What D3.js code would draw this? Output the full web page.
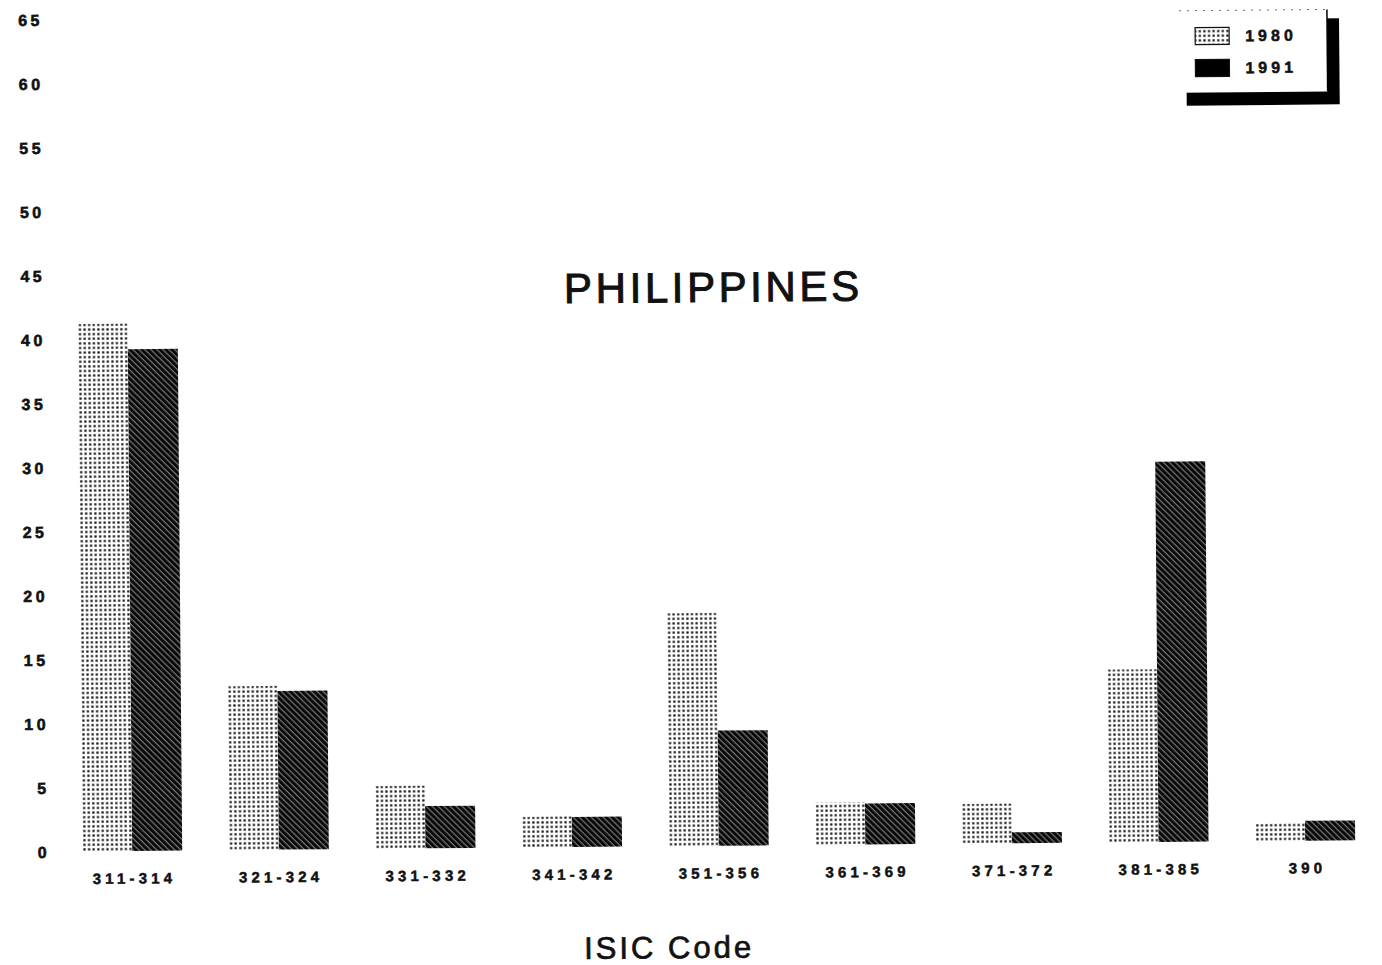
<!DOCTYPE html>
<html><head><meta charset="utf-8">
<script src="https://cdn.jsdelivr.net/npm/d3@7"></script>
<style>html,body{margin:0;padding:0;background:#fff;}</style>
</head><body>
<svg id="c" width="1382" height="965"></svg>
<script>
const categories = ["311-314","321-324","331-332","341-342","351-356","361-369","371-372","381-385","390"];
const series = ["1980","1991"];
const values1980 = [41.2, 12.8, 4.9, 2.4, 18.2, 3.3, 3.1, 13.5, 1.4];
const values1991 = [39.2, 12.4, 3.3, 2.35, 9.0, 3.2, 0.85, 29.7, 1.55];
const yTicks = [0,5,10,15,20,25,30,35,40,45,50,55,60,65];
const title = "PHILIPPINES";
const xTitle = "ISIC Code";

const svg = d3.select("#c");
const defs = svg.append("defs");
const dots = defs.append("pattern").attr("id","dots").attr("patternUnits","userSpaceOnUse")
  .attr("width",4.6).attr("height",4.6);
dots.append("rect").attr("width",4.6).attr("height",4.6).attr("fill","#fff");
dots.append("rect").attr("x",1.2).attr("y",1.2).attr("width",2.2).attr("height",2.2).attr("fill","#111");
const hatch = defs.append("pattern").attr("id","hatch").attr("patternUnits","userSpaceOnUse")
  .attr("width",4.2).attr("height",4.2).attr("patternTransform","rotate(-45)");
hatch.append("rect").attr("width",4.2).attr("height",4.2).attr("fill","#080808");
hatch.append("line").attr("x1",1).attr("x2",1).attr("y1",0).attr("y2",4.2)
  .attr("stroke","#c8c8c8").attr("stroke-width",0.7);

const fills = {"1980":"url(#dots)","1991":"url(#hatch)"};
const font = "'Liberation Sans', Arial, Helvetica, sans-serif";

const g = svg.append("g").attr("transform","rotate(-0.5,691,480)");

const x = d3.scaleBand().domain(categories).range([79,1352]).paddingInner(0.318).paddingOuter(0);
const xs = d3.scaleBand().domain(series).range([0,x.bandwidth()]).padding(0);
const y = d3.scaleLinear().domain([0,65]).range([846,14]);

// y tick labels
const yAxis = d3.axisLeft(y).tickValues(yTicks).tickSize(0).tickPadding(0).tickFormat(d3.format("d"));
const ya = g.append("g").attr("transform","translate(47,0)").call(yAxis);
ya.select(".domain").remove();
ya.selectAll("text").attr("font-family",font).attr("font-weight","bold")
  .attr("font-size",16).attr("letter-spacing","3.5px").attr("fill","#111")
  .attr("stroke","#111").attr("stroke-width",0.6).attr("dy","0.36em");

// bars
const data = categories.map((c,i)=>({cat:c, vals:[{s:"1980",v:values1980[i]},{s:"1991",v:values1991[i]}]}));
const grp = g.selectAll(".grp").data(data).enter().append("g")
  .attr("transform",d=>`translate(${x(d.cat)},0)`);
grp.selectAll("rect").data(d=>d.vals).enter().append("rect")
  .attr("x",d=>xs(d.s)).attr("width",xs.bandwidth())
  .attr("y",d=>y(d.v)).attr("height",d=>y(0)-y(d.v))
  .attr("fill",d=>fills[d.s]);

// x labels
const xAxis = d3.axisBottom(x).tickSize(0).tickPadding(0);
const xa = g.append("g").attr("transform","translate(0,868)").call(xAxis);
xa.select(".domain").remove();
xa.selectAll("text").attr("font-family",font).attr("font-weight","bold")
  .attr("font-size",15).attr("letter-spacing","4.2px").attr("fill","#111")
  .attr("stroke","#111").attr("stroke-width",0.5).attr("dx","2px");

// title
g.append("text").attr("x",715).attr("y",302).attr("text-anchor","middle")
  .attr("font-family",font).attr("font-size",42).attr("letter-spacing","3.6px")
  .attr("fill","#111").attr("stroke","#111").attr("stroke-width",1).text(title);

// x title
g.append("text").attr("x",665).attr("y",958).attr("text-anchor","middle")
  .attr("font-family",font).attr("font-size",31).attr("letter-spacing","3px")
  .attr("fill","#111").attr("stroke","#111").attr("stroke-width",0.7).text(xTitle);

// legend
const lg = g.append("g").attr("transform","translate(1183,15)");
lg.append("rect").attr("x",7).attr("y",9).attr("width",153).attr("height",86).attr("fill","#000");
lg.append("rect").attr("x",0).attr("y",0).attr("width",148).attr("height",82).attr("fill","#fff");
lg.append("line").attr("x1",0).attr("x2",148).attr("y1",0).attr("y2",0)
  .attr("stroke","#666").attr("stroke-width",1).attr("stroke-dasharray","2,6");
lg.append("line").attr("x1",148).attr("x2",148).attr("y1",0).attr("y2",82)
  .attr("stroke","#000").attr("stroke-width",1.5);
const legendFills = {"1980":"url(#dots)","1991":"#000"};
series.forEach((s,i)=>{
  const yy = 17 + i*32;
  lg.append("rect").attr("x",16).attr("y",yy).attr("width",34).attr("height",17)
    .attr("fill",legendFills[s]).attr("stroke","#111").attr("stroke-width",1.2);
  lg.append("text").attr("x",66).attr("y",yy+14).attr("font-family",font).attr("font-weight","bold")
    .attr("font-size",16).attr("letter-spacing","4px").attr("fill","#111")
    .attr("stroke","#111").attr("stroke-width",0.5).text(s);
});
</script>
</body></html>
